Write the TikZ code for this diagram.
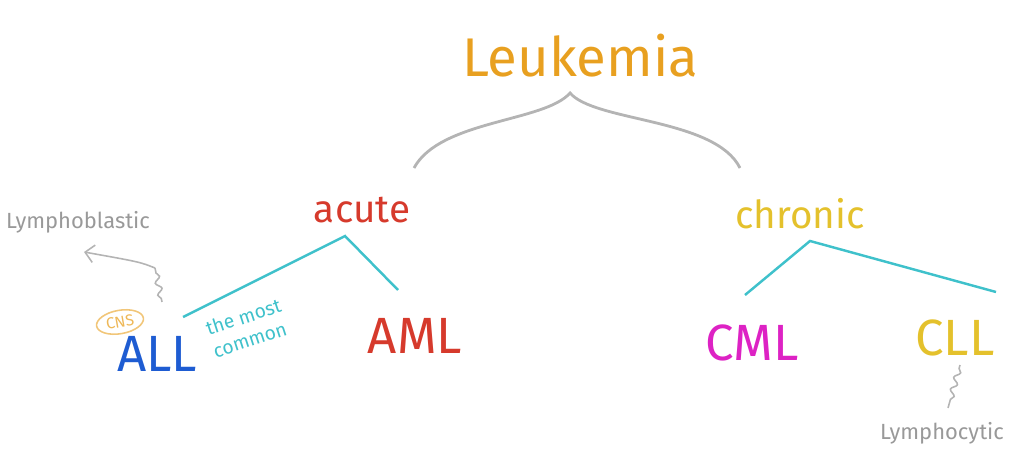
\documentclass[tikz,border=0pt]{standalone}
\usepackage{fontspec}
\setmainfont{Fira Sans}
\usepackage{xcolor}
\usetikzlibrary{arrows.meta,decorations.pathmorphing,shapes.geometric}

\definecolor{leukorange}{HTML}{E8A020}
\definecolor{acutered}{HTML}{D63A2C}
\definecolor{chronyellow}{HTML}{E4C12C}
\definecolor{allblue}{HTML}{1E5CD2}
\definecolor{cmlmagenta}{HTML}{DD22C4}
\definecolor{branchcyan}{HTML}{3FC1CB}
\definecolor{notegray}{HTML}{B4B4B4}

\tikzset{
	word/.style 	= {inner sep=0pt, font=\fontsize{22}{24}\selectfont},
	bigword/.style 	= {inner sep=0pt, font=\fontsize{29}{32}\selectfont},
	noteword/.style = {inner sep=0pt, text=notegray!85!black, font=\fontsize{12.5}{14}\selectfont},
	branch/.style 	= {draw=branchcyan, line width=1.4pt},
	brace/.style 	= {draw=notegray, line width=1.6pt},
	squiggle/.style = {draw=notegray, line width=0.9pt, decorate,
		decoration={snake, amplitude=1.6pt, segment length=7pt, pre length=2pt, post length=2pt}}
}

\begin{document}
\begin{tikzpicture}[x=0.02cm, y=-0.02cm]
		\useasboundingbox (0,0) rectangle (1016,455);

		\node[bigword, text=leukorange, font=\fontsize{31}{34}\selectfont] (leukemia) at (580,56) {Leukemia};

		\node[word, text=acutered] (acute) at (362,210) {acute};
		\node[word, text=chronyellow] (chronic) at (800,214) {chronic};

		\node[bigword, text=allblue] (all) at (157,354) {ALL};
		\node[bigword, text=acutered] (aml) at (415,336) {AML};
		\node[bigword, text=cmlmagenta] (cml) at (752,343) {CML};
		\node[bigword, text=chronyellow] (cll) at (955,338) {CLL};

		\node[inner sep=0pt, text=branchcyan, rotate=18, align=left,
			font=\fontsize{11}{13.5}\selectfont] (common) at (247,328) {the most\\ common};

		\node[draw=leukorange!60, ellipse, line width=0.9pt, inner sep=1.5pt,
			text=leukorange!75, font=\fontsize{9}{10}\selectfont, rotate=10] (cns) at (120,322) {CNS};

		\node[noteword] (lymphoblastic) at (78,222) {Lymphoblastic};
		\node[noteword] (lymphocytic) at (942,433) {Lymphocytic};

		\coordinate (bl) at (414,168);
		\coordinate (tip) at (570,93);
		\coordinate (br) at (740,168);

		\coordinate (acutefork) at (345,236);
		\coordinate (allend) at (183,317);
		\coordinate (amlend) at (398,290);

		\coordinate (chronfork) at (810,241);
		\coordinate (cmlend) at (745,295);
		\coordinate (cllend) at (996,292);

		\coordinate (allup) at (162,302);
		\coordinate (arrowend) at (84,252);
		\coordinate (cllup) at (960,365);
		\coordinate (clldown) at (948,408);

		\draw[brace] (bl) .. controls (440,120) and (545,122) .. (tip)
			.. controls (595,122) and (715,118) .. (br);

		\draw[branch] (allend) -- (acutefork) -- (amlend);
		\draw[branch] (cmlend) -- (chronfork) -- (cllend);

		\draw[squiggle] (allup) -- (155,268);
		\draw[draw=notegray, line width=0.9pt, -{Straight Barb[length=5pt]}] (155,268) .. controls (140,262) .. (arrowend);
		\draw[squiggle] (cllup) -- (clldown);

\end{tikzpicture}
\end{document}
